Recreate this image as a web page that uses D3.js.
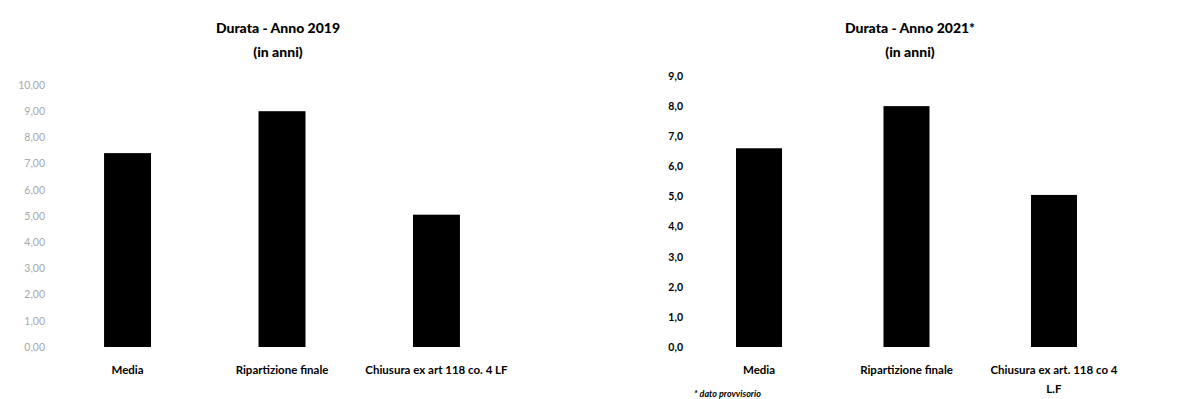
<!DOCTYPE html>
<html>
<head>
<meta charset="utf-8">
<script src="https://cdn.jsdelivr.net/npm/d3@7"></script>
<style>
  html, body { margin: 0; padding: 0; background: #fff; }
  svg { display: block; font-family: Lato, "Open Sans", sans-serif; }
</style>
</head>
<body>
<svg id="chart" width="1184" height="399"></svg>
<script>
// Durata media delle procedure, in anni
const categories2019 = ["Media", "Ripartizione finale", "Chiusura ex art 118 co. 4 LF"];
const values2019 = [7.4, 9.0, 5.05];
const ticks2019 = [0, 1, 2, 3, 4, 5, 6, 7, 8, 9, 10];

const categories2021 = ["Media", "Ripartizione finale", "Chiusura ex art. 118 co 4 L.F"];
const values2021 = [6.6, 8.0, 5.05];
const ticks2021 = [0, 1, 2, 3, 4, 5, 6, 7, 8, 9];

const titles2019 = ["Durata - Anno 2019", "(in anni)"];
const titles2021 = ["Durata - Anno 2021*", "(in anni)"];
const footnote = "* dato provvisorio";

const it = d3.formatLocale({ decimal: ",", thousands: ".", grouping: [3], currency: ["€", ""] });

const svg = d3.select("#chart");

function panel(opts) {
  const g = svg.append("g");

  const x = d3.scaleBand()
    .domain(opts.categories)
    .range(opts.xRange)
    .paddingInner(opts.padInner)
    .paddingOuter(opts.padOuter);

  const y = d3.scaleLinear()
    .domain(opts.yDomain)
    .range(opts.yRange);

  // Titolo su due righe
  opts.titles.forEach((t, i) => {
    g.append("text")
      .attr("x", opts.titleX)
      .attr("y", 33 + i * 24)
      .attr("text-anchor", "middle")
      .attr("font-weight", 900)
      .attr("font-size", 14)
      .attr("fill", "#000")
      .text(t);
  });

  // Asse verticale: solo etichette, senza linea
  const yAxis = d3.axisLeft(y)
    .tickValues(opts.ticks)
    .tickSize(0)
    .tickPadding(0)
    .tickFormat(it.format(opts.fmt));
  const ya = g.append("g")
    .attr("transform", `translate(${opts.yLabelX},0)`)
    .call(yAxis);
  ya.select(".domain").remove();
  ya.selectAll("text")
    .attr("font-family", "Lato, 'Open Sans', sans-serif")
    .attr("font-size", 10.5)
    .attr("fill", opts.yColor)
    .attr("font-weight", opts.yWeight);

  // Barre
  g.selectAll("rect.bar")
    .data(opts.values)
    .join("rect")
    .attr("class", "bar")
    .attr("x", (d, i) => x(opts.categories[i]))
    .attr("width", x.bandwidth())
    .attr("y", d => y(d))
    .attr("height", d => y(0) - y(d))
    .attr("fill", "#000");

  // Asse delle categorie
  const xAxis = d3.axisBottom(x).tickSize(0).tickPadding(0);
  const xa = g.append("g")
    .attr("transform", `translate(0,${y(0) + 19})`)
    .call(xAxis);
  xa.select(".domain").remove();
  xa.selectAll("text")
    .attr("font-family", "Lato, 'Open Sans', sans-serif")
    .attr("font-size", 11.5)
    .attr("font-weight", 700)
    .attr("fill", "#000")
    .attr("dy", "0.71em")
    .each(function (d) {
      const wrapAt = opts.wrap && opts.wrap[d];
      if (wrapAt) {
        const t = d3.select(this);
        t.text(null);
        t.append("tspan").attr("x", 0).attr("dy", "0.71em").text(d.slice(0, wrapAt));
        t.append("tspan").attr("x", 0).attr("dy", "1.65em").text(d.slice(wrapAt + 1));
        t.attr("dy", null);
      }
    });

  return { g, x, y };
}

panel({
  categories: categories2019,
  values: values2019,
  ticks: ticks2019,
  fmt: ".2f",
  titles: titles2019,
  titleX: 278,
  xRange: [50, 514],
  padInner: 0.696,
  padOuter: 0.35,
  yDomain: [0, 10],
  yRange: [347, 85],
  yLabelX: 45,
  yColor: "#a8a8a8",
  yWeight: 400
});

const right = panel({
  categories: categories2021,
  values: values2021,
  ticks: ticks2021,
  fmt: ".1f",
  titles: titles2021,
  titleX: 910,
  xRange: [690, 1123],
  padInner: 0.688,
  padOuter: 0.312,
  yDomain: [0, 9],
  yRange: [347, 76],
  yLabelX: 683,
  yColor: "#000",
  yWeight: 700,
  wrap: { "Chiusura ex art. 118 co 4 L.F": 25 }
});

// Nota a piè di grafico
right.g.append("text")
  .attr("x", 694)
  .attr("y", 397)
  .attr("font-size", 9)
  .attr("font-style", "italic")
  .attr("font-weight", 700)
  .attr("fill", "#000")
  .text(footnote);
</script>
</body>
</html>
